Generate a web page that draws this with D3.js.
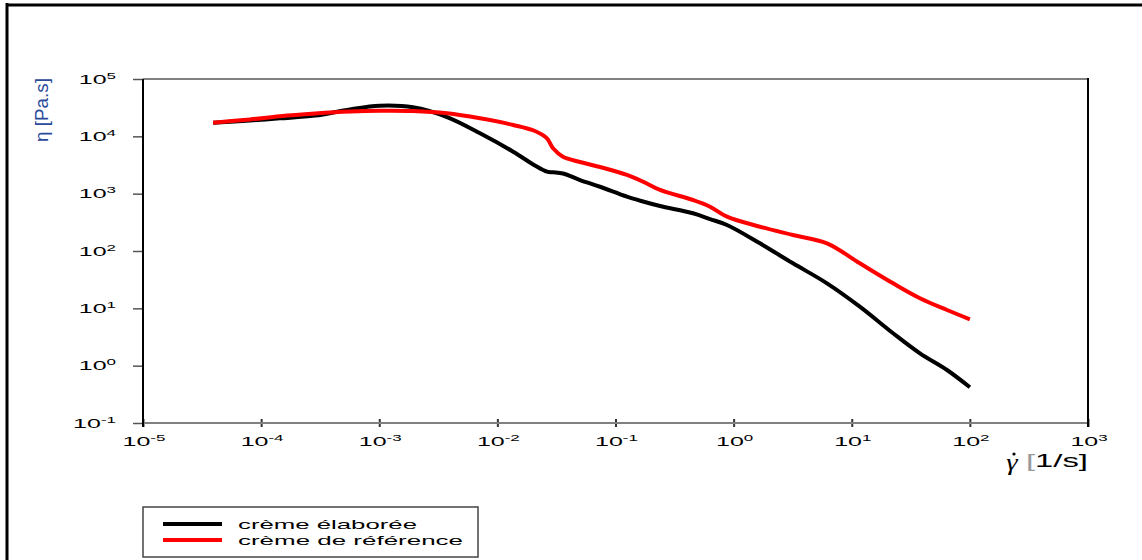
<!DOCTYPE html>
<html>
<head>
<meta charset="utf-8">
<script src="https://cdn.jsdelivr.net/npm/d3@7"></script>
<style>
  html, body { margin: 0; padding: 0; background: #fff; }
  svg { display: block; }
</style>
</head>
<body>
<svg id="chart" width="1142" height="560"></svg>
<script>
// Shear rate (1/s) and apparent viscosity (Pa.s) of the two creams
const shearRate = [3.92e-5, 8.05e-5, 1.44e-4, 2.86e-4, 5.65e-4, 1.01e-3, 1.93e-3, 3.75e-3,
  7.13e-3, 0.0136, 0.0208, 0.0263, 0.0296, 0.0359, 0.0501, 0.0739, 0.125, 0.171, 0.238,
  0.453, 0.631, 0.879, 1.67, 3.18, 6.17, 11.7, 22.4, 37.8, 64.0, 100];
const viscosityElaboree = [17300, 18900, 20600, 23000, 29500, 34200, 32100, 21700,
  11300, 5400, 3100, 2420, 2360, 2250, 1730, 1320, 885, 730, 609,
  455, 361, 284, 136, 61, 27.3, 10.7, 3.67, 1.64, 0.84, 0.42];
const viscosityReference = [17300, 19700, 22400, 25000, 27100, 28000, 27700, 25200,
  20600, 15800, 12400, 9240, 6180, 4410, 3570, 2920, 2120, 1620, 1160,
  775, 593, 397, 265, 190, 136, 61, 27.3, 15.0, 9.35, 6.44];
const seriesNames = ["crème élaborée", "crème de référence"];
const seriesColors = ["#000000", "#ff0000"];
const xTickExponents = [-5, -4, -3, -2, -1, 0, 1, 2, 3];
const yTickExponents = [5, 4, 3, 2, 1, 0, -1];

const svg = d3.select("#chart");
const font = "'Liberation Sans', Arial, sans-serif";

// outer frame (left and top edges)
svg.append("line").attr("x1", 7).attr("x2", 7).attr("y1", 3).attr("y2", 560)
  .attr("stroke", "#000").attr("stroke-width", 3);
svg.append("line").attr("x1", 6).attr("x2", 1142).attr("y1", 5).attr("y2", 5)
  .attr("stroke", "#000").attr("stroke-width", 3);

const plot = { left: 143, right: 1088, top: 79, bottom: 423 };
const x = d3.scaleLog().domain([1e-5, 1e3]).range([plot.left, plot.right]);
const y = d3.scaleLog().domain([1e-1, 1e5]).range([plot.bottom, plot.top]);

// y axis ticks
const yAxis = svg.append("g").attr("transform", `translate(${plot.left},0)`)
  .call(d3.axisLeft(y).tickValues(yTickExponents.map(e => Math.pow(10, e)))
    .tickSize(10).tickSizeOuter(0).tickFormat(""));
yAxis.select(".domain").remove();
yAxis.selectAll(".tick line").attr("stroke", "#555").attr("stroke-width", 1.5);

// x axis ticks (straddle the bottom spine)
const xAxis = svg.append("g").attr("transform", `translate(0,${plot.bottom})`)
  .call(d3.axisBottom(x).tickValues(xTickExponents.map(e => Math.pow(10, e)))
    .tickSize(4).tickSizeOuter(0).tickFormat(""));
xAxis.select(".domain").remove();
xAxis.selectAll(".tick line").attr("y1", -4).attr("stroke", "#333").attr("stroke-width", 2);

// spines
svg.append("line").attr("x1", plot.left).attr("x2", plot.right).attr("y1", plot.top).attr("y2", plot.top)
  .attr("stroke", "#808080").attr("stroke-width", 2);
svg.append("line").attr("x1", plot.left).attr("x2", plot.right).attr("y1", plot.bottom).attr("y2", plot.bottom)
  .attr("stroke", "#808080").attr("stroke-width", 2);
svg.append("line").attr("x1", plot.left).attr("x2", plot.left).attr("y1", plot.top).attr("y2", plot.bottom + 4)
  .attr("stroke", "#000").attr("stroke-width", 2);
svg.append("line").attr("x1", plot.right).attr("x2", plot.right).attr("y1", plot.top - 1).attr("y2", plot.bottom + 4)
  .attr("stroke", "#000").attr("stroke-width", 2);

// power-of-ten labels, drawn wide
function powerLabel(px, py, exp, anchor) {
  const t = svg.append("g").attr("transform", `translate(${px},${py}) scale(2,1)`)
    .append("text").attr("text-anchor", anchor)
    .attr("font-family", font).attr("font-size", 12.5).attr("fill", "#000");
  t.append("tspan").text("10");
  t.append("tspan").attr("dy", -5).attr("font-size", 8.5).text(String(exp));
}
yTickExponents.forEach(e => powerLabel(116, y(Math.pow(10, e)) + 4.5, e, "end"));
xTickExponents.forEach(e => powerLabel(x(Math.pow(10, e)) + 1, 446, e, "middle"));

// axis titles
svg.append("g").attr("transform", "translate(48,142) scale(1.6,1) rotate(-90)")
  .append("text").attr("font-family", font).attr("font-size", 11).attr("fill", "#2a4a9a")
  .attr("textLength", 64).attr("lengthAdjust", "spacingAndGlyphs")
  .text("η [Pa.s]");

// shear-rate symbol: gamma with a dot above it
svg.append("g").attr("transform", "translate(1012,470) scale(1.25,1)")
  .append("text").attr("text-anchor", "middle")
  .attr("font-family", "'Liberation Serif', 'DejaVu Serif', serif").attr("font-style", "italic")
  .attr("font-size", 23).attr("fill", "#000").text("γ");
svg.append("circle").attr("cx", 1014).attr("cy", 454).attr("r", 1.6).attr("fill", "#000");
const xTitle = svg.append("text").attr("x", 1026).attr("y", 467)
  .attr("font-family", font).attr("font-size", 18).attr("fill", "#000")
  .attr("textLength", 62).attr("lengthAdjust", "spacingAndGlyphs");
xTitle.append("tspan").attr("fill", "#999").text("[");
xTitle.append("tspan").text("1/s]");

// curves
const series = [viscosityElaboree, viscosityReference];
const line = d3.line()
  .x(d => x(d[0])).y(d => y(d[1]))
  .curve(d3.curveCatmullRom.alpha(0.5));
series.forEach((vals, i) => {
  svg.append("path")
    .datum(shearRate.map((s, j) => [s, vals[j]]))
    .attr("d", line)
    .attr("fill", "none")
    .attr("stroke", seriesColors[i])
    .attr("stroke-width", 4)
    .attr("stroke-linejoin", "round");
});

// legend
svg.append("rect").attr("x", 143).attr("y", 507).attr("width", 335).attr("height", 50)
  .attr("fill", "#fff").attr("stroke", "#444").attr("stroke-width", 1.5);
const legendWidths = [179, 225];
seriesNames.forEach((name, i) => {
  const ly = 524 + i * 16;
  svg.append("line").attr("x1", 163).attr("x2", 222).attr("y1", ly).attr("y2", ly)
    .attr("stroke", seriesColors[i]).attr("stroke-width", 4);
  svg.append("text").attr("x", 238).attr("y", ly + 5)
    .attr("font-family", font).attr("font-size", 13.5).attr("fill", "#000")
    .attr("textLength", legendWidths[i]).attr("lengthAdjust", "spacingAndGlyphs")
    .text(name);
});
</script>
</body>
</html>
